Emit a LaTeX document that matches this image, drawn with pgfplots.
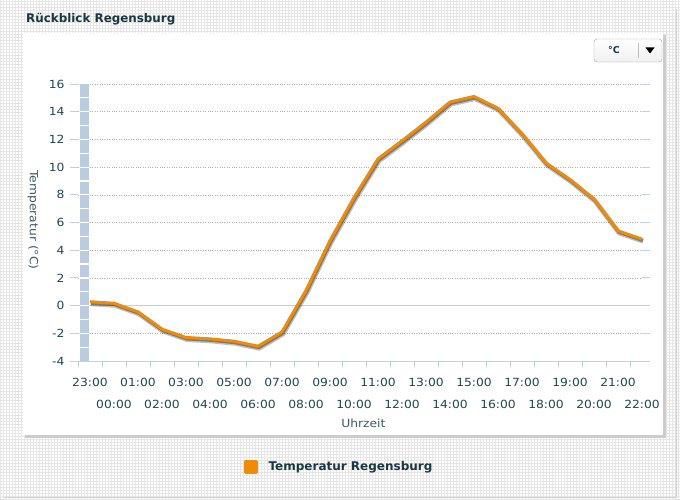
\documentclass[border=0pt]{standalone}
\usepackage{pgfplots}
\usepackage{pgfplotstable}
\pgfplotsset{compat=1.18}
\usepackage{fontspec}
\setmainfont{DejaVu Sans}
\newfontfamily\regf[FakeStretch=1.1]{DejaVu Sans}
\definecolor{lineorange}{RGB}{238,140,10}
\definecolor{tickc}{RGB}{35,70,80}
\definecolor{titlec}{RGB}{25,55,65}
\definecolor{labc}{RGB}{60,90,100}
\definecolor{axisc}{RGB}{192,208,224}
\definecolor{bandc}{RGB}{188,204,222}
\definecolor{texc}{RGB}{230,230,230}

\pgfplotstableread{
k temp
0 0.28
1 0.17
2 -0.45
3 -1.70
4 -2.30
5 -2.40
6 -2.57
7 -2.93
8 -1.90
9 1.10
10 4.70
11 7.80
12 10.60
13 11.90
14 13.25
15 14.70
16 15.10
17 14.25
18 12.40
19 10.30
20 9.10
21 7.70
22 5.40
23 4.80
}\temps

\begin{document}
\begin{tikzpicture}
\begin{scope}[x=1pt,y=1pt]
% textured background
\fill[white] (0,0) rectangle (680,499);
\draw[texc, line width=0.7pt, step=3pt] (0,0) grid (680,499);
\draw[black!18, line width=0.6pt] (4,2) -- (676,2) -- (676,490);
% panel shadow and panel
\fill[black!20] (25,61) rectangle (666,464);
\fill[white] (23,64) rectangle (663,466);
% title
\node[anchor=west, inner sep=0pt, text=titlec, font=\fontsize{11.9}{13}\selectfont\bfseries] at (26,480) {Rückblick Regensburg};
% unit button
\draw[black!35, rounded corners=3pt, top color=white, bottom color=black!6] (594,437) rectangle (662,460);
\node[text=titlec, font=\fontsize{9.5}{11}\selectfont\bfseries] at (614,448.5) {°C};
\draw[black!25] (638,441) -- (638,456);
\fill[black] (645.5,451.5) -- (654.5,451.5) -- (650,445.5) -- cycle;
\end{scope}

\begin{axis}[
  at={(78pt,138pt)}, anchor=south west,
  scale only axis, width=564pt, height=277pt,
  xmin=-0.5, xmax=23, ymin=-4, ymax=16,
  clip=false,
  axis line style={draw=none},
  /pgf/number format/assume math mode=true,
  ytick={-4,-2,...,16},
  ymajorgrids,
  major grid style={dotted, black!30, line width=0.6pt},
  tick align=outside,
  major tick length=8pt,
  ytick style={axisc, line width=1pt},
  yticklabel style={text=tickc, font=\regf\fontsize{11.2}{13}\selectfont, xshift=-2pt},
  xtick={0,2,...,22},
  xticklabels={23:00,01:00,03:00,05:00,07:00,09:00,11:00,13:00,15:00,17:00,19:00,21:00},
  extra x ticks={1,3,...,23},
  extra x tick labels={00:00,02:00,04:00,06:00,08:00,10:00,12:00,14:00,16:00,18:00,20:00,22:00},
  extra x tick style={grid=none, xticklabel style={yshift=-22pt}},
  xtick style={draw=none},
  xticklabel style={text=tickc, font=\regf\fontsize{11.2}{13}\selectfont, yshift=-6pt},
  legend style={at={(axis description cs:0.4628,-0.3827)}, anchor=center, draw=none, fill=none,
    font=\fontsize{12}{13}\selectfont\bfseries, text=titlec, column sep=9pt},
  legend image code/.code={\fill[lineorange] (0pt,-5.5pt) rectangle (11pt,5.5pt);},
]
% zero line and bottom axis line
\draw[axisc, line width=1pt] (axis cs:-0.5,0) -- (axis cs:23,0);
\draw[axisc, line width=1pt] (axis cs:-0.5,-4) -- (axis cs:23,-4);
% category boundary ticks
\pgfplotsinvokeforeach{-0.5,0.5,...,22.5}{
  \draw[axisc, line width=1pt] (axis cs:#1,-4) -- ([yshift=-6pt]axis cs:#1,-4);
}
% plot band
\fill[bandc] (axis cs:-0.417,-4) rectangle (axis cs:-0.042,16);
\pgfplotsinvokeforeach{-3,...,15}{
  \draw[white, line width=1.2pt] (axis cs:-0.417,#1) -- (axis cs:-0.042,#1);
}
% shadow
\addplot[forget plot, black, opacity=0.25, line width=5pt, line join=round, xshift=1pt, yshift=-2pt] table[x=k, y=temp] {\temps};
\addplot[forget plot, black!70, opacity=0.6, line width=3pt, line join=round, xshift=0.8pt, yshift=-1.5pt] table[x=k, y=temp] {\temps};
% main line
\addplot[lineorange, line width=3pt, line join=round] table[x=k, y=temp] {\temps};
\addlegendentry{Temperatur Regensburg}
\node[rotate=-90, text=labc, font=\regf\fontsize{11.2}{13}\selectfont] at (axis description cs:-0.0798,0.509) {Temperatur (°C)};
\node[text=labc, font=\regf\fontsize{11.2}{13}\selectfont] at (axis description cs:0.506,-0.224) {Uhrzeit};
\end{axis}
\pgfresetboundingbox
\useasboundingbox (0,0) rectangle (680pt,499pt);
\end{tikzpicture}
\end{document}
